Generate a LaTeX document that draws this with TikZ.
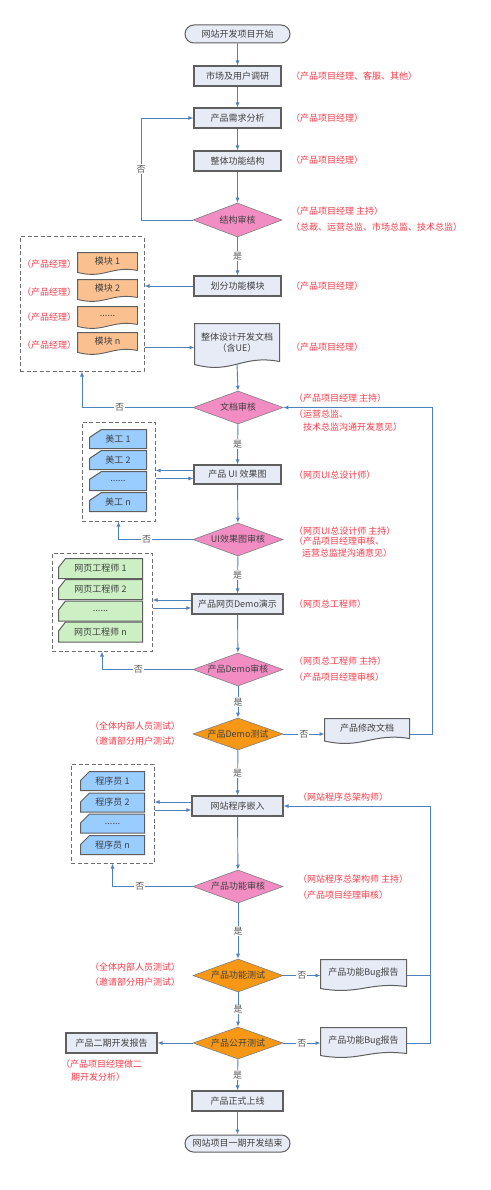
\documentclass[tikz,border=0pt]{standalone}
\usepackage{fontspec}
\setmainfont{Noto Sans CJK SC}
\usetikzlibrary{shapes.geometric,shapes.misc,arrows.meta,calc}

\definecolor{boxfill}{RGB}{231,235,246}
\definecolor{boxline}{RGB}{95,95,95}
\definecolor{pinkfill}{RGB}{242,141,196}
\definecolor{orangefill}{RGB}{246,152,22}
\definecolor{modfill}{RGB}{250,192,143}
\definecolor{bluefill}{RGB}{153,204,255}
\definecolor{greenfill}{RGB}{204,240,196}
\definecolor{linkblue}{RGB}{79,129,189}
\definecolor{redtext}{RGB}{245,60,75}
\definecolor{txt}{RGB}{64,64,64}
\definecolor{grpline}{RGB}{110,110,110}

\makeatletter
\newdimen\dsxa \newdimen\dsxb \newdimen\dsya \newdimen\dsyb
\newdimen\dsw \newdimen\dsv \newdimen\dsca \newdimen\dscb
\newdimen\dscc \newdimen\dscd \newdimen\dsce
\def\docwave{5pt}
\def\cardcx{10pt}
\def\cardcy{8pt}
\pgfdeclareshape{docshape}{%
  \inheritsavedanchors[from=rectangle]%
  \saveddimen{\wavedim}{\pgf@x=\docwave}%
  \inheritanchorborder[from=rectangle]%
  \inheritanchor[from=rectangle]{center}%
  \inheritanchor[from=rectangle]{north}%
  \inheritanchor[from=rectangle]{south}%
  \inheritanchor[from=rectangle]{east}%
  \inheritanchor[from=rectangle]{west}%
  \inheritanchor[from=rectangle]{north east}%
  \inheritanchor[from=rectangle]{north west}%
  \inheritanchor[from=rectangle]{south east}%
  \inheritanchor[from=rectangle]{south west}%
  \inheritanchor[from=rectangle]{mid}%
  \inheritanchor[from=rectangle]{base}%
  \anchor{wavesouth}{%
    \dsv=\wavedim
    \southwest \dsxa=\pgf@x \dsya=\pgf@y
    \northeast \dsxb=\pgf@x
    \pgf@x=.5\dsxa \advance\pgf@x by .5\dsxb
    \pgf@y=\dsya \advance\pgf@y by -.44\dsv
  }%
  \backgroundpath{%
    \dsv=\wavedim
    \southwest \dsxa=\pgf@x \dsya=\pgf@y
    \northeast \dsxb=\pgf@x \dsyb=\pgf@y
    \dsw=\dsxb \advance\dsw by -\dsxa
    \dsca=\dsxa \advance\dsca by .55\dsw
    \dscb=\dsxa \advance\dscb by .45\dsw
    \dscc=\dsya \advance\dscc by 1.2\dsv
    \dscd=\dsya \advance\dscd by -2.2\dsv
    \dsce=\dsya \advance\dsce by -.5\dsv
    \pgfpathmoveto{\pgfqpoint{\dsxa}{\dsyb}}%
    \pgfpathlineto{\pgfqpoint{\dsxb}{\dsyb}}%
    \pgfpathlineto{\pgfqpoint{\dsxb}{\dsya}}%
    \pgfpathcurveto{\pgfqpoint{\dsca}{\dscc}}{\pgfqpoint{\dscb}{\dscd}}{\pgfqpoint{\dsxa}{\dsce}}%
    \pgfpathclose
  }%
}
\pgfdeclareshape{cardshape}{%
  \inheritsavedanchors[from=rectangle]%
  \saveddimen{\cutxdim}{\pgf@x=\cardcx}%
  \saveddimen{\cutydim}{\pgf@x=\cardcy}%
  \inheritanchorborder[from=rectangle]%
  \inheritanchor[from=rectangle]{center}%
  \inheritanchor[from=rectangle]{north}%
  \inheritanchor[from=rectangle]{south}%
  \inheritanchor[from=rectangle]{east}%
  \inheritanchor[from=rectangle]{west}%
  \inheritanchor[from=rectangle]{north east}%
  \inheritanchor[from=rectangle]{north west}%
  \inheritanchor[from=rectangle]{south east}%
  \inheritanchor[from=rectangle]{south west}%
  \inheritanchor[from=rectangle]{mid}%
  \inheritanchor[from=rectangle]{base}%
  \backgroundpath{%
    \southwest \dsxa=\pgf@x \dsya=\pgf@y
    \northeast \dsxb=\pgf@x \dsyb=\pgf@y
    \dsca=\dsxa \advance\dsca by \cutxdim
    \dscb=\dsyb \advance\dscb by -\cutydim
    \pgfpathmoveto{\pgfqpoint{\dsca}{\dsyb}}%
    \pgfpathlineto{\pgfqpoint{\dsxb}{\dsyb}}%
    \pgfpathlineto{\pgfqpoint{\dsxb}{\dsya}}%
    \pgfpathlineto{\pgfqpoint{\dsxa}{\dsya}}%
    \pgfpathlineto{\pgfqpoint{\dsxa}{\dscb}}%
    \pgfpathclose
  }%
}
\makeatother

\tikzset{
  docwave/.code={\def\docwave{#1}},
  cutx/.code={\def\cardcx{#1}},
  cuty/.code={\def\cardcy{#1}},
  basefont/.style={font=\fontsize{9}{11}\selectfont, text=txt, inner sep=1pt},
  procbox/.style={basefont, rectangle, draw=boxline, line width=1.2pt, fill=boxfill,
    minimum width=87pt, minimum height=20pt},
  widebox/.style={procbox, minimum width=91pt},
  term/.style={basefont, rounded rectangle, draw=boxline, line width=1pt, fill=boxfill,
    minimum width=107pt, minimum height=18pt},
  decision/.style={diamond, draw=boxline!80, line width=.6pt,
    minimum width=90pt, minimum height=33pt, inner sep=0pt,
    label={[basefont]center:#1}},
  review/.style={decision={#1}, fill=pinkfill},
  testd/.style={decision={#1}, fill=orangefill},
  docnode/.style={basefont, shape=docshape, draw=boxline, line width=1pt, fill=boxfill},
  modnode/.style={basefont, shape=docshape, draw=boxline, line width=.9pt, fill=modfill,
    minimum width=59pt, minimum height=17pt, docwave=4pt},
  cardnode/.style={basefont, shape=cardshape, draw=boxline, line width=1pt},
  group/.style={draw=grpline, dash pattern=on 4pt off 2.5pt, line width=1pt, inner sep=0pt},
  flow/.style={draw=linkblue, line width=.9pt, -{Latex[length=5pt,width=4pt]}},
  link/.style={draw=linkblue, line width=.9pt},
  yesno/.style={font=\fontsize{9}{10}\selectfont, text=gray!70!black, fill=white, inner sep=1pt},
  note/.style={font=\fontsize{9}{11}\selectfont, text=redtext, anchor=west, inner sep=0pt},
  cnote/.style={note, anchor=center},
}

\begin{document}
\begin{tikzpicture}[x=1pt, y=-1pt]
\fill[white] (0,0) rectangle (490,1190);
\useasboundingbox (0,0) rectangle (490,1190);

% ---------- helper coordinates ----------
\coordinate (L1) at (141,0);
\coordinate (R1) at (432,0);
\coordinate (R2) at (430,0);

% ---------- main column ----------
\node[term] (start) at (237.5,34) {网站开发项目开始};
\node[procbox] (b1) at (237.5,76) {市场及用户调研};
\node[procbox] (b2) at (237.5,118) {产品需求分析};
\node[procbox] (b3) at (237.5,161) {整体功能结构};
\node[review=结构审核, minimum width=89pt, minimum height=34pt] (d1) at (237.5,220) {};
\node[procbox] (b4) at (237.5,286) {划分功能模块};
\node[docnode, minimum width=84pt, minimum height=37pt, docwave=6pt, align=center] (doc1) at (237,342.5) {整体设计开发文档\\（含UE）};
\node[review=文档审核] (d2) at (238,407.5) {};
\node[procbox, minimum height=19pt] (b5) at (237.5,474.5) {产品 UI 效果图};
\node[review=UI效果图审核] (d3) at (238,539.5) {};
\node[widebox] (b6) at (237.5,604) {产品网页Demo演示};
\node[review=产品Demo审核] (d4) at (238,669.5) {};
\node[testd=产品Demo测试, minimum height=32pt] (d5) at (238,734) {};
\node[widebox] (b7) at (237.5,806) {网站程序嵌入};
\node[review=产品功能审核] (d6) at (238,886.5) {};
\node[testd=产品功能测试] (d7) at (238,975.5) {};
\node[testd=产品公开测试, minimum height=32pt] (d8) at (238,1043) {};
\node[widebox] (b8) at (237.5,1101) {产品正式上线};
\node[term, minimum height=17pt] (end) at (237.5,1143.5) {网站项目一期开发结束};

% ---------- right side documents ----------
\node[docnode, minimum width=84pt, minimum height=19pt, docwave=5pt] (fixdoc) at (367,728.5) {产品修改文档};
\node[docnode, minimum width=85pt, minimum height=26pt, docwave=4pt] (bug1) at (363.5,973) {产品功能Bug报告};
\node[docnode, minimum width=85pt, minimum height=25pt, docwave=4pt] (bug2) at (363.5,1040.5) {产品功能Bug报告};
\node[widebox] (rep) at (111.5,1043) {产品二期开发报告};

% ---------- group A : modules ----------
\node[group, minimum width=124pt, minimum height=134pt] (grpA) at (82,304) {};
\node[modnode] (m1) at (107.5,261.5) {模块 1};
\node[modnode] (m2) at (107.5,288.5) {模块 2};
\node[modnode] (m3) at (107.5,315.5) {......};
\node[modnode] (m4) at (107.5,341.5) {模块 n};
\node[cnote] (pm1) at (49,264) {（产品经理）};
\node[cnote] (pm2) at (49,292) {（产品经理）};
\node[cnote] (pm3) at (49,317) {（产品经理）};
\node[cnote] (pm4) at (49,345) {（产品经理）};

% ---------- group B : artists ----------
\node[group, minimum width=73pt, minimum height=99pt] (grpB) at (118.5,471.5) {};
\begin{scope}[every node/.style={cardnode, fill=bluefill, minimum width=56pt, minimum height=18pt, cutx=12pt, cuty=8pt}]
\node (a1) at (118,439) {美工 1};
\node (a2) at (118,460) {美工 2};
\node (a3) at (118,481) {......};
\node (a4) at (118,502) {美工 n};
\end{scope}

% ---------- group C : web engineers ----------
\node[group, minimum width=100pt, minimum height=98pt] (grpC) at (102,602) {};
\begin{scope}[every node/.style={cardnode, fill=greenfill, minimum width=83pt, minimum height=19pt, cutx=7pt, cuty=9pt}]
\node (w1) at (100.5,568.5) {网页工程师 1};
\node (w2) at (100.5,589.5) {网页工程师 2};
\node (w3) at (100.5,611) {......};
\node (w4) at (100.5,632) {网页工程师 n};
\end{scope}

% ---------- group D : programmers ----------
\node[group, minimum width=83pt, minimum height=99pt] (grpD) at (112.5,813.5) {};
\begin{scope}[every node/.style={cardnode, fill=bluefill, minimum width=63pt, minimum height=18pt, cutx=9pt, cuty=9pt}]
\node (p1) at (112.5,781) {程序员 1};
\node (p2) at (112.5,802.5) {程序员 2};
\node (p3) at (112.5,823.5) {......};
\node (p4) at (112.5,845) {程序员 n};
\end{scope}

% ---------- main flow connectors ----------
\draw[flow] (start) -- (b1);
\draw[flow] (b1) -- (b2);
\draw[flow] (b2) -- (b3);
\draw[flow] (b3) -- (d1);
\draw[flow] (d1) -- node[yesno]{是} (b4);
\draw[flow] (doc1.wavesouth) -- (d2.north);
\draw[flow] (d2) -- node[yesno]{是} (b5);
\draw[flow] (b5) -- (d3);
\draw[flow] (d3) -- node[yesno]{是} (b6);
\draw[flow] (b6) -- (d4);
\draw[flow] (d4) -- node[yesno]{是} (d5);
\draw[flow] (d5) -- node[yesno]{是} (b7);
\draw[flow] (b7) -- (d6);
\draw[flow] (d6) -- node[yesno]{是} (d7);
\draw[flow] (d7) -- node[yesno]{是} (d8);
\draw[flow] (d8) -- node[yesno]{是} (b8);
\draw[flow] (b8) -- (end);
\draw[flow] (d8) -- (rep);

% ---------- groups ----------
\draw[flow] (b4.west) -- (b4.west -| grpA.east);
\coordinate (docin) at ([yshift=-5pt]doc1.west);
\draw[flow] (docin -| grpA.east) -- (docin);

\coordinate (b5u) at ([yshift=4pt]b5.west);
\coordinate (b5d) at ([yshift=-4pt]b5.west);
\draw[flow] (b5u) -- (b5u -| grpB.east);
\draw[flow] (b5d -| grpB.east) -- (b5d);

\coordinate (b6u) at ([yshift=4pt]b6.west);
\coordinate (b6d) at ([yshift=-4pt]b6.west);
\draw[flow] (b6u) -- (b6u -| grpC.east);
\draw[flow] (b6d -| grpC.east) -- (b6d);

\coordinate (b7u) at ([yshift=4pt]b7.west);
\coordinate (b7d) at ([yshift=-4pt]b7.west);
\draw[flow] (b7u) -- (b7u -| grpD.east);
\draw[flow] (b7d -| grpD.east) -- (b7d);

% ---------- "no" loops on the left ----------
\draw[flow] (d1.west) -- (d1.west -| L1) -- node[yesno]{否} (b2.west -| L1) -- (b2.west);
\draw[flow] (d2.west) -| node[yesno, pos=.33]{否} (grpA.south);
\draw[flow] (d3.west) -| node[yesno, pos=.31]{否} (grpB.south);
\draw[flow] (d4.west) -| node[yesno, pos=.30]{否} (grpC.south);
\draw[flow] (d6.west) -| node[yesno, pos=.33]{否} (grpD.south);

% ---------- "no" branches on the right ----------
\draw[flow] (d5.east) -- node[yesno]{否} (d5.east -| fixdoc.west);
\draw[flow] (d5.east -| fixdoc.east) -- (d5.east -| R1) -- (d2.east -| R1) -- (d2.east);
\draw[flow] (d7.east) -- node[yesno]{否} (d7.east -| bug1.west);
\draw[flow] (d8.east) -- node[yesno]{否} (d8.east -| bug2.west);
\draw[link] (d7.east -| bug1.east) -- (d7.east -| R2);
\draw[flow] (d8.east -| bug2.east) -- (d8.east -| R2) -- (b7.east -| R2) -- (b7.east);

% ---------- red annotations ----------
\node[note] (n1) at (291,76) {（产品项目经理、客服、其他）};
\node[note] (n2) at (291,118) {（产品项目经理）};
\node[note] (n3) at (291,160) {（产品项目经理）};
\node[note] (n4) at (291,211) {（产品项目经理 主持）};
\node[note] (n5) at (291,227) {（总裁、运营总监、市场总监、技术总监）};
\node[note] (n6) at (291,286) {（产品项目经理）};
\node[note] (n7) at (291,347) {（产品项目经理）};
\node[note] (n8) at (294,398) {（产品项目经理 主持）};
\node[note] (n9) at (294,414) {（运营总监、};
\node[note] (n10) at (303,427) {技术总监沟通开发意见）};
\node[note] (n11) at (294,475) {（网页UI总设计师）};
\node[note] (n12) at (294,531) {（网页UI总设计师 主持）};
\node[note] (n13) at (294,541) {（产品项目经理审核、};
\node[note] (n14) at (302,553) {运营总监提沟通意见）};
\node[note] (n15) at (294,604) {（网页总工程师）};
\node[note] (n16) at (294,661) {（网页总工程师 主持）};
\node[note] (n17) at (294,677) {（产品项目经理审核）};
\node[cnote] (n18) at (135,726) {（全体内部人员测试）};
\node[cnote] (n19) at (135,741) {（邀请部分用户测试）};
\node[note] (n20) at (298,797) {（网站程序总架构师）};
\node[note] (n21) at (298,879) {（网站程序总架构师 主持）};
\node[note] (n22) at (298,895) {（产品项目经理审核）};
\node[cnote] (n23) at (135,967) {（全体内部人员测试）};
\node[cnote] (n24) at (135,982) {（邀请部分用户测试）};
\node[note] (n25) at (61,1064) {（产品项目经理做二};
\node[note] (n26) at (71,1077) {期开发分析）};
\end{tikzpicture}
\end{document}
